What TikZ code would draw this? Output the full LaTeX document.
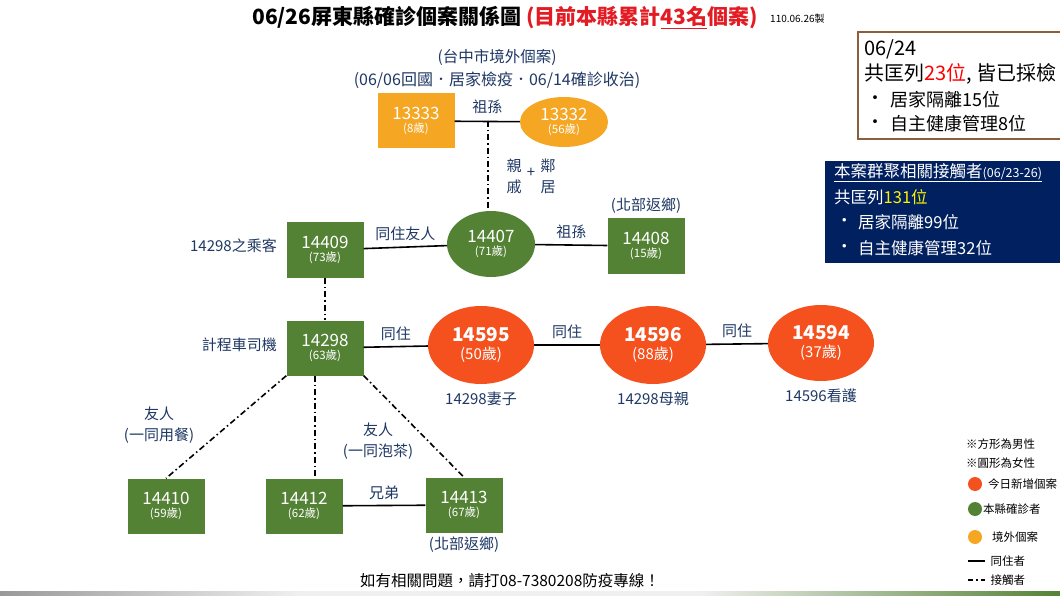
\documentclass[tikz,border=0pt]{standalone}
\usepackage{fontspec}
\setmainfont{Noto Sans CJK TC}
\usetikzlibrary{positioning,shapes.geometric}
\definecolor{casegreen}{HTML}{548235}
\definecolor{caseorange}{HTML}{F5A623}
\definecolor{casered}{HTML}{F4511E}
\definecolor{navytext}{HTML}{1F3864}
\definecolor{navybox}{HTML}{002060}
\definecolor{titlered}{HTML}{E31B23}
\definecolor{boxbrown}{HTML}{8B5E3C}
\newcommand{\numfont}{\fontsize{17}{19}\selectfont}
\newcommand{\agefont}{\fontsize{11.5}{13}\selectfont}
\newcommand{\bignum}{\fontsize{19}{21}\selectfont\bfseries}
\newcommand{\bigage}{\fontsize{15}{17}\selectfont}

\begin{document}
\begin{tikzpicture}[x=1pt,y=-1pt,
  male/.style={rectangle, minimum width=77pt, minimum height=55pt, inner sep=0pt, text=white, align=center},
  female/.style={ellipse, minimum width=88pt, minimum height=50pt, inner sep=0pt, text=white, align=center},
  newcase/.style={ellipse, fill=casered, minimum width=106pt, minimum height=78pt, inner sep=0pt, text=white, align=center},
  live/.style={line width=1.6pt},
  contact/.style={line width=1.6pt, dash pattern=on 6pt off 3pt on 1.5pt off 3pt},
  rel/.style={text=navytext, font=\fontsize{15}{21}\selectfont, align=center},
  legend/.style={font=\fontsize{11.5}{14}\selectfont, inner sep=0pt},
  boxtext/.style={anchor=west, inner sep=0pt},
]
\useasboundingbox (0,0) rectangle (1060,596);
\fill[white] (0,0) rectangle (1060,596);

% title
\node (title) at (505,18) {\fontsize{21}{24}\selectfont\bfseries 06/26屏東縣確診個案關係圖 \textcolor{titlered}{(目前本縣累計\underline{43名}個案)}};
\node[anchor=west, inner sep=0pt] (date) at (770,19) {\fontsize{10}{12}\selectfont 110.06.26製};

% imported cluster
\node[rel, font=\fontsize{15.5}{21}\selectfont] (note1) at (497,57) {(台中市境外個案)};
\node[rel, font=\fontsize{16}{21}\selectfont] (note2) at (497,80) {(06/06回國．居家檢疫．06/14確診收治)};
\node[male, fill=caseorange] (c13333) at (416,121) {\numfont 13333\\[1pt]\agefont (8歲)};
\node[female, fill=caseorange] (c13332) at (564,122) {\numfont 13332\\[1pt]\agefont (56歲)};
\draw[live] (c13333) -- (c13332) node[rel, midway, above=4pt] (r1) {祖孫};
\coordinate (gp) at (488,121);
\node[rel] (qin) at (514,176) {親\\戚};
\node[rel] (plus) at (531,173) {+};
\node[rel] (lin) at (548,176) {鄰\\居};

% second row
\node[male, fill=casegreen] (c14409) at (325,250) {\numfont 14409\\[1pt]\agefont (73歲)};
\node[female, fill=casegreen, minimum width=88pt, minimum height=66pt] (c14407) at (491,244) {\numfont 14407\\[1pt]\agefont (71歲)};
\node[male, fill=casegreen] (c14408) at (646,246) {\numfont 14408\\[1pt]\agefont (15歲)};
\node[rel, left=6pt of c14409, yshift=4pt] (passenger) {14298之乘客};
\node[rel, above=1pt of c14408] (north1) {(北部返鄉)};
\draw[contact] (gp) -- (gp |- c14407.north);
\draw[live] (c14409) -- (c14407) node[rel, midway, above=2pt] (r2) {同住友人};
\draw[live] (c14407) -- (c14408) node[rel, midway, above=2pt] (r3) {祖孫};

% third row
\node[male, fill=casegreen] (c14298) at (325,348) {\numfont 14298\\[1pt]\agefont (63歲)};
\node[rel, left=6pt of c14298, yshift=3pt] (driver) {計程車司機};
\node[newcase] (c14595) at (481,345) {\bignum 14595\\[4pt]\bigage (50歲)};
\node[newcase] (c14596) at (653,345) {\bignum 14596\\[4pt]\bigage (88歲)};
\node[newcase, minimum height=76pt] (c14594) at (821,343) {\bignum 14594\\[4pt]\bigage (37歲)};
\node[rel, below=4pt of c14595] (wife) {14298妻子};
\node[rel, below=4pt of c14596] (mother) {14298母親};
\node[rel, below=4pt of c14594] (carer) {14596看護};
\draw[contact] (c14409) -- (c14298);
\draw[live] (c14298) -- (c14595) node[rel, midway, above=2pt] (r4) {同住};
\draw[live] (c14595) -- (c14596) node[rel, midway, above=2pt] (r5) {同住};
\draw[live] (c14596) -- (c14594) node[rel, midway, above=2pt] (r6) {同住};

% bottom row
\node[male, fill=casegreen] (c14410) at (166,506) {\numfont 14410\\[1pt]\agefont (59歲)};
\node[male, fill=casegreen] (c14412) at (304,506) {\numfont 14412\\[1pt]\agefont (62歲)};
\node[male, fill=casegreen] (c14413) at (464,505) {\numfont 14413\\[1pt]\agefont (67歲)};
\node[rel, below=1pt of c14413] (north2) {(北部返鄉)};
\draw[contact] (c14298.south west) -- (c14410.north);
\draw[contact] ([xshift=-10pt]c14298.south) -- ([xshift=11pt]c14412.north);
\draw[contact] (c14298.south east) -- (c14413.north);
\draw[live] (c14412) -- (c14413) node[rel, midway, above=2pt] (r7) {兄弟};
\node[rel] (meal) at (159,425) {友人\\(一同用餐)};
\node[rel] (tea) at (378,441) {友人\\(一同泡茶)};

% footer
\node (hotline) at (510,581) {\fontsize{15.5}{18}\selectfont 如有相關問題，請打08-7380208防疫專線！};
\shade[left color=gray!80, right color=gray!12] (0,591) rectangle (300,596);
\shade[left color=gray!12, right color=gray!12] (300,591) rectangle (700,596);
\shade[left color=gray!12, right color=casegreen] (700,591) rectangle (1060,596);

% count boxes
\draw[boxbrown, line width=1.5pt, fill=white] (858,32) rectangle (1075,139);
\node[boxtext] (b1a) at (864,49) {\fontsize{20}{22}\selectfont 06/24};
\node[boxtext] (b1b) at (864,74) {\fontsize{20}{22}\selectfont 共匡列\textcolor{red}{23位}, 皆已採檢};
\node[boxtext] (b1c) at (866,100) {\fontsize{18}{20}\selectfont •};
\node[boxtext] (b1d) at (890,100) {\fontsize{18}{20}\selectfont 居家隔離15位};
\node[boxtext] (b1e) at (866,124) {\fontsize{18}{20}\selectfont •};
\node[boxtext] (b1f) at (890,124) {\fontsize{18}{20}\selectfont 自主健康管理8位};

\fill[navybox] (825,161) rectangle (1075,263);
\node[boxtext, text=white] (b2a) at (834,173) {\fontsize{16.5}{18}\selectfont\underline{本案群聚相關接觸者{\fontsize{12.5}{14}\selectfont(06/23-26)}}};
\node[boxtext, text=white] (b2b) at (834,197) {\fontsize{16.5}{18}\selectfont 共匡列\textcolor{yellow}{131位}};
\node[boxtext, text=white] (b2c) at (836,222) {\fontsize{16.5}{18}\selectfont •};
\node[boxtext, text=white] (b2d) at (858,222) {\fontsize{16.5}{18}\selectfont 居家隔離99位};
\node[boxtext, text=white] (b2e) at (836,248) {\fontsize{16.5}{18}\selectfont •};
\node[boxtext, text=white] (b2f) at (858,248) {\fontsize{16.5}{18}\selectfont 自主健康管理32位};

% legend
\node[legend, anchor=west] (lgm) at (966,444) {※方形為男性};
\node[legend, anchor=west] (lgf) at (966,463) {※圓形為女性};
\node[circle, fill=casered, minimum size=14pt, inner sep=0pt] (dotr) at (975,484) {};
\node[legend, anchor=west] (lgr) at (988,484) {今日新增個案};
\node[circle, fill=casegreen, minimum size=14pt, inner sep=0pt] (dotg) at (975,509) {};
\node[legend, anchor=west] (lgg) at (983,509) {本縣確診者};
\node[circle, fill=caseorange, minimum size=14pt, inner sep=0pt] (doto) at (975,537) {};
\node[legend, anchor=west] (lgo) at (992,537) {境外個案};
\coordinate (lgl) at (968,561);
\draw[live, line width=1.3pt] (lgl) -- ++(17,0) node[legend, anchor=west, xshift=5pt] (lglive) {同住者};
\coordinate (lgc) at (968,580);
\draw[contact, line width=1.3pt, dash pattern=on 5pt off 3pt on 1.5pt off 3pt] (lgc) -- ++(17,0) node[legend, anchor=west, xshift=5pt] (lgcont) {接觸者};
\end{tikzpicture}
\end{document}
